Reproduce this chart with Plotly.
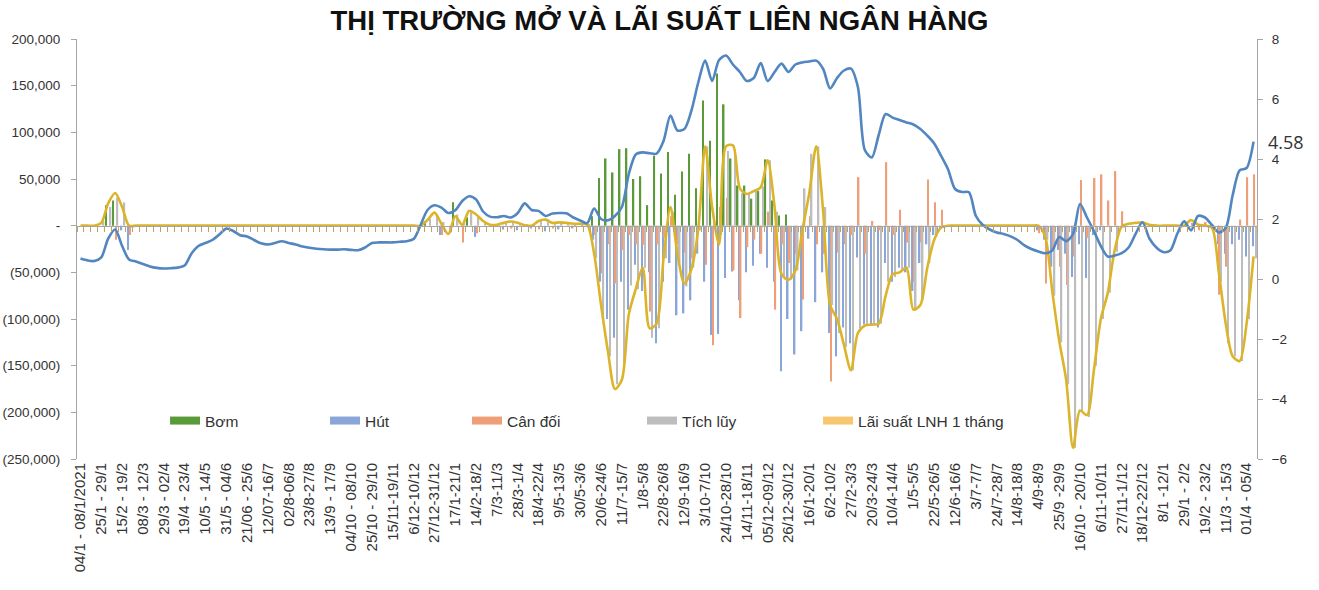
import plotly.graph_objects as go

# ---------------- DATA ----------------
tick_labels = ["04/1 - 08/1/2021", "25/1 - 29/1", "15/2 - 19/2", "08/3 - 12/3", "29/3 - 02/4",
               "19/4 - 23/4", "10/5 - 14/5", "31/5 - 04/6", "21/06 - 25/6", "12/07-16/7",
               "02/8-06/8", "23/8-27/8", "13/9 - 17/9", "04/10 - 08/10", "25/10 - 29/10",
               "15/11-19/11", "6/12-10/12", "27/12-31/12", "17/1-21/1", "14/2-18/2",
               "7/3-11/3", "28/3-1/4", "18/4-22/4", "9/5-13/5", "30/5-3/6",
               "20/6-24/6", "11/7-15/7", "1/8-5/8", "22/8-26/8", "12/9-16/9",
               "3/10-7/10", "24/10-28/10", "14/11-18/11", "05/12-09/12", "26/12-30/12",
               "16/1-20/1", "6/2-10/2", "27/2-3/3", "20/3-24/3", "10/4-14/4",
               "1/5-5/5", "22/5-26/5", "12/6-16/6", "3/7-7/7", "24/7-28/7",
               "14/8-18/8", "4/9-8/9", "25/9 -29/9", "16/10 - 20/10", "6/11-10/11",
               "27/11-1/12", "18/12-22/12", "8/1 -12/1", "29/1 - 2/2", "19/2 - 23/2",
               "11/3 - 15/3", "01/4 - 05/4"]
n_weeks = 170

bom = [0, 0, 0, 0, 22000, 27000, 0, 0, 0, 0,
       0, 0, 0, 0, 0, 0, 0, 0, 0, 0,
       0, 0, 0, 0, 0, 0, 0, 0, 0, 0,
       0, 0, 0, 0, 0, 0, 0, 0, 0, 0,
       0, 0, 0, 0, 0, 0, 0, 0, 0, 0,
       5000, 0, 0, 0, 25000, 0, 9000, 0, 0, 0,
       0, 0, 0, 0, 0, 0, 0, 0, 0, 0,
       0, 0, 0, 0, 10000, 51000, 72000, 57000, 82000, 83000,
       50000, 53000, 22000, 75000, 56000, 79000, 33000, 58000, 77000, 40000,
       134000, 91000, 163000, 130000, 72000, 43000, 43000, 29000, 37000, 71000,
       27000, 11000, 12000, 0, 0, 0, 0, 0, 0, 0,
       0, 0, 0, 0, 0, 0, 0, 0, 0, 0,
       0, 0, 0, 0, 0, 0, 0, 0, 0, 0,
       0, 0, 0, 0, 0, 0, 0, 0, 0, 0,
       0, 0, 0, 0, 0, 0, 0, 0, 0, 0,
       0, 0, 0, 0, 0, 0, 0, 0, 0, 0,
       0, 0, 0, 0, 0, 0, 0, 0, 0, 0]

hut = [0, 0, 0, 0, 0, 0, -5000, -26000, 0, 0,
       0, 0, 0, 0, 0, 0, 0, 0, 0, 0,
       0, 0, 0, 0, 0, 0, 0, 0, 0, 0,
       0, 0, 0, 0, 0, 0, 0, 0, 0, 0,
       0, 0, 0, 0, 0, 0, 0, 0, 0, 0,
       0, 0, -10000, 0, 0, 0, 0, -12000, 0, 0,
       0, -4000, 0, -5000, 0, -3000, 0, -6000, 0, -4000,
       0, -3000, 0, 0, -15000, -60000, -100000, -120000, -60000, -90000,
       -42000, -70000, -50000, -126000, -60000, -40000, -96000, -94000, -80000, -30000,
       -60000, -117000, -116000, -56000, -49000, -80000, -50000, -43000, -30000, -45000,
       -60000, -156000, -100000, -138000, -113000, -14000, -82000, -50000, -115000, -140000,
       -109000, -126000, -34000, -106000, -106000, -109000, -40000, -60000, -45000, -50000,
       -70000, -40000, -20000, -10000, -3000, 0, 0, 0, 0, 0,
       0, 0, 0, 0, 0, 0, 0, 0, -5000, -15000,
       -44000, -26000, -30000, -55000, -20000, -56000, -10000, -5000, 0, 0,
       0, 0, 0, 0, 0, 0, 0, 0, 0, 0,
       0, 0, 0, 0, -20000, -30000, -20000, -15000, -33000, -22000]

can_doi = [0, 0, 0, 0, 0, -15000, 0, -10000, 0, 0,
           0, 0, 0, 0, 0, 0, 0, 0, 0, 0,
           0, 0, 0, 0, 0, 0, 0, 0, 0, 0,
           0, 0, 0, 0, 0, 0, 0, 0, 0, 0,
           0, 0, 0, 0, 0, 0, 0, 0, 0, 0,
           0, 0, -10000, 0, 0, -18000, 0, -8000, 0, 0,
           0, 0, -3000, 0, 0, 0, -4000, 0, -3000, 0,
           0, 0, 0, 0, -10000, -51000, -20000, -62000, -26000, -10000,
           -20000, -20500, -92000, -20000, -13000, 10000, -20000, -29000, -35000, 5000,
           -42000, -128000, 20000, 30000, -48000, -99000, -23000, -15000, -30000, 15000,
           -90000, -20000, -40000, -30000, -79000, 10000, -20000, -30000, -167000, -28700,
           -20000, -10000, 52000, -30000, 5000, -5000, 68000, -10000, 17000, -18000,
           -60000, -18000, 49500, 25000, 17000, 0, 0, 0, 0, 0,
           0, 0, 0, 0, 0, 0, 0, 0, -8000, -62000,
           -26000, -44000, -63500, -33000, 48800, -13000, 51000, 55000, 27000, 58500,
           15400, 0, 0, 0, 0, 0, 0, 0, 0, 0,
           3000, -5000, 4000, 0, -74000, -44000, 0, 6500, 52000, 55000]

tich_luy = [0, 0, 0, 5000, 20000, 30000, 25000, 0, 0, 0,
            0, 0, 0, 0, 0, 0, 0, 0, 0, 0,
            0, 0, 0, 0, 0, 0, 0, 0, 0, 0,
            0, 0, 0, 0, 0, 0, 0, 0, 0, 0,
            0, 0, 0, 0, 0, 0, 0, 0, 0, 0,
            8000, 12000, 4000, -8000, 12000, 3000, 15000, 10000, 5000, 0,
            2000, 3000, 5000, 3000, 1000, 1000, 6000, 7000, 3000, 4000,
            3000, 2000, 2000, 1000, -35000, -100000, -140000, -170000, -150000, -64000,
            -68000, -45000, -120000, -110000, -35000, 15000, -40000, -65000, -45000, -5000,
            85000, 5000, -10000, 80000, 82000, 35000, 35000, 38000, 42000, 70000,
            15000, -55000, -58000, -48000, 40000, 77000, 85000, 20000, -85000, -115000,
            -130000, -155000, -110000, -106000, -106000, -105000, -60000, -55000, -48000, -45000,
            -90000, -80000, -40000, -12000, -2000, 0, 0, 0, 0, 0,
            0, 0, 0, 0, 0, 0, 0, 0, 0, -15000,
            -75000, -125000, -170000, -238000, -200000, -205000, -150000, -100000, -72000, -28000,
            -2000, 0, 0, 0, 0, 0, 0, 0, 0, 0,
            0, 0, 0, -3000, -60000, -126000, -140000, -145000, -100000, -35000]

# yellow smooth line (left axis)
duong_vang = [0, 0, 0, 3000, 24000, 35000, 20000, 0, 0, 0,
              0, 0, 0, 0, 0, 0, 0, 0, 0, 0,
              0, 0, 0, 0, 0, 0, 0, 0, 0, 0,
              0, 0, 0, 0, 0, 0, 0, 0, 0, 0,
              0, 0, 0, 0, 0, 0, 0, 0, 0, 0,
              6000, 14000, 2000, -9000, 10000, 1000, 16000, 12000, 5000, 1000,
              1000, 3000, 4500, 3000, 500, 0, 5000, 6500, 3000, 3500,
              3000, 2000, 2000, 1000, -30000, -85000, -135000, -175000, -165000, -95000,
              -68000, -45000, -110000, -105000, -35000, 20000, -30000, -62000, -47000, -4000,
              85000, 20000, -20000, 85000, 86000, 40000, 34000, 37000, 41000, 70000,
              20000, -52000, -58000, -48000, -5000, 35000, 85000, 15000, -85000, -100000,
              -128000, -155000, -115000, -107000, -106000, -105000, -75000, -52000, -50000, -45000,
              -90000, -85000, -45000, -15000, -2000, 0, 0, 0, 0, 0,
              0, 0, 0, 0, 0, 0, 0, 0, 0, -12000,
              -70000, -123000, -165000, -238000, -198000, -203000, -155000, -100000, -72000, -26000,
              -1000, 2000, 3000, 3500, 1000, 0, 0, 0, 0, 0,
              6000, 1000, 0, -2000, -50000, -105000, -140000, -145000, -105000, -33000]

# blue smooth line (right axis, %)
lai_suat = [0.68, 0.62, 0.60, 0.72, 1.35, 1.65, 1.10, 0.65, 0.58, 0.50,
            0.42, 0.37, 0.35, 0.36, 0.38, 0.45, 0.85, 1.10, 1.20, 1.30,
            1.48, 1.68, 1.60, 1.46, 1.42, 1.30, 1.19, 1.15, 1.20, 1.26,
            1.20, 1.15, 1.08, 1.04, 1.01, 0.99, 0.98, 0.98, 0.99, 0.97,
            0.96, 1.05, 1.20, 1.22, 1.22, 1.22, 1.24, 1.26, 1.33, 1.80,
            2.30, 2.46, 2.38, 2.20, 2.29, 2.60, 2.76, 2.65, 2.25, 2.08,
            2.06, 2.10, 2.05, 2.20, 2.52, 2.30, 2.27, 2.10, 2.18, 2.20,
            2.19, 2.05, 1.95, 1.86, 2.35, 2.00, 1.96, 2.10, 2.40, 3.50,
            4.15, 4.22, 4.19, 4.18, 4.60, 5.45, 4.95, 5.00, 5.60, 6.55,
            7.28, 6.60, 7.30, 7.45, 7.15, 6.90, 6.60, 6.70, 7.20, 6.60,
            6.90, 7.18, 6.90, 7.15, 7.22, 7.25, 7.28, 7.00, 6.35, 6.70,
            6.95, 7.01, 6.40, 4.30, 4.05, 4.80, 5.50, 5.38, 5.30, 5.22,
            5.15, 5.00, 4.78, 4.52, 4.10, 3.65, 3.00, 2.90, 2.89, 2.10,
            1.80, 1.65, 1.55, 1.50, 1.42, 1.30, 1.12, 1.00, 0.92, 0.86,
            0.95, 1.40, 1.26, 1.50, 2.50, 2.05, 1.60, 1.10, 0.75, 0.78,
            0.86, 1.05, 1.50, 1.89, 1.35, 1.05, 0.90, 0.95, 1.50, 1.92,
            1.62, 2.10, 2.05, 1.80, 1.55, 1.70, 2.80, 3.62, 3.70, 4.58]

left_ticks = [200000, 150000, 100000, 50000, 0, -50000, -100000, -150000, -200000, -250000]
left_tick_text = ["200,000", "150,000", "100,000", "50,000", "-", "(50,000)", "(100,000)",
                  "(150,000)", "(200,000)", "(250,000)"]
right_ticks = [8, 6, 4, 2, 0, -2, -4, -6]

series_names = ["Bơm", "Hút", "Cân đối", "Tích lũy", "Lãi suất LNH 1 tháng"]
# --------------------------------------

FONT = "Liberation Sans, Arial, sans-serif"
TXT = "#333333"
AX = "#a6a6a6"
C_BOM, C_HUT, C_CD, C_TL = "#5a9a38", "#8aa6d8", "#ee9f78", "#bdbdbd"
C_LEG_LS = "#f8c66e"
C_YEL, C_BLUE = "#dcb42a", "#5286c0"

x = list(range(n_weeks))
fig = go.Figure()

for vals, col in zip([bom, hut, can_doi, tich_luy], [C_BOM, C_HUT, C_CD, C_TL]):
    fig.add_trace(go.Bar(x=x, y=vals, marker=dict(color=col, line=dict(width=0)),
                         showlegend=False, xaxis="x", yaxis="y"))

fig.add_trace(go.Scatter(x=x, y=duong_vang, mode="lines",
                         line=dict(color=C_YEL, width=2.6, shape="spline", smoothing=0.8),
                         showlegend=False, xaxis="x", yaxis="y"))
fig.add_trace(go.Scatter(x=x, y=lai_suat, mode="lines",
                         line=dict(color=C_BLUE, width=2.6, shape="spline", smoothing=0.8),
                         showlegend=False, xaxis="x", yaxis="y2"))

# category tick marks on the zero line
fig.add_trace(go.Scatter(x=[0], y=[None], mode="markers", showlegend=False, xaxis="x2", yaxis="y",
                         hoverinfo="skip"))

# legend entries (one legend each, for exact placement)
leg_cols = [C_BOM, C_HUT, C_CD, C_TL, C_LEG_LS]
leg_x = [0.0746, 0.2102, 0.3305, 0.4788, 0.628]
for k, (nm, col) in enumerate(zip(series_names, leg_cols)):
    lid = "legend" if k == 0 else f"legend{k+1}"
    fig.add_trace(go.Scatter(x=[None], y=[None], mode="lines", name=nm,
                             line=dict(color=col, width=8), legend=lid, showlegend=True))

legend_common = dict(orientation="h", yanchor="middle", xanchor="left", y=0.0905,
                     bgcolor="rgba(0,0,0,0)", font=dict(family=FONT, size=15.5, color=TXT))
layout_legends = {}
for k in range(5):
    lid = "legend" if k == 0 else f"legend{k+1}"
    layout_legends[lid] = dict(legend_common, x=leg_x[k])

fig.update_layout(
    width=1319, height=590,
    margin=dict(l=77, r=62, t=39, b=131),
    paper_bgcolor="white", plot_bgcolor="white",
    barmode="group", bargap=0.12, bargroupgap=0,
    title=dict(text="<b>THỊ TRƯỜNG MỞ VÀ LÃI SUẤT LIÊN NGÂN HÀNG</b>", x=0.5, xref="container",
               y=1 - 20 / 590, yref="container", yanchor="middle", xanchor="center",
               font=dict(family=FONT, size=27.5, color="#111111")),
    xaxis=dict(range=[-0.5, n_weeks - 0.5], tickmode="array", tickvals=list(range(0, n_weeks, 3)),
               ticktext=tick_labels, tickangle=-90, showgrid=False, zeroline=False, showline=False,
               ticks="", automargin=False, tickfont=dict(family=FONT, size=15, color=TXT)),
    xaxis2=dict(range=[-0.5, n_weeks - 0.5], overlaying="x", anchor="free", position=250000 / 450000,
                side="bottom", showline=True, linecolor=AX, linewidth=1, ticks="outside", ticklen=5,
                tickcolor="#c0a358", tickmode="array", tickvals=[i - 0.5 for i in range(n_weeks + 1)],
                showticklabels=False, showgrid=False, zeroline=False, automargin=False),
    yaxis=dict(range=[-250000, 200000], tickmode="array", tickvals=left_ticks, ticktext=left_tick_text,
               showgrid=False, zeroline=False, showline=True, linecolor=AX, ticks="outside",
               ticklen=5, tickcolor=AX, ticklabelstandoff=8, automargin=False,
               tickfont=dict(family=FONT, size=13.5, color=TXT)),
    yaxis2=dict(range=[-6, 8], overlaying="y", side="right", tickmode="array", tickvals=right_ticks,
                showgrid=False, zeroline=False, showline=True, linecolor=AX, ticks="outside",
                ticklen=5, tickcolor=AX, ticklabelstandoff=6, automargin=False,
                tickfont=dict(family=FONT, size=13.5, color=TXT)),
    annotations=[dict(text="4.58", x=1.008, y=lai_suat[-1], xref="paper", yref="y2", xanchor="left",
                      yanchor="middle", showarrow=False,
                      font=dict(family="Open Sans, sans-serif", size=18, color="#333333"))],
    **layout_legends,
)

fig.write_html("out.html", config={"displayModeBar": False},
               post_script="document.body.style.margin='0px';")
